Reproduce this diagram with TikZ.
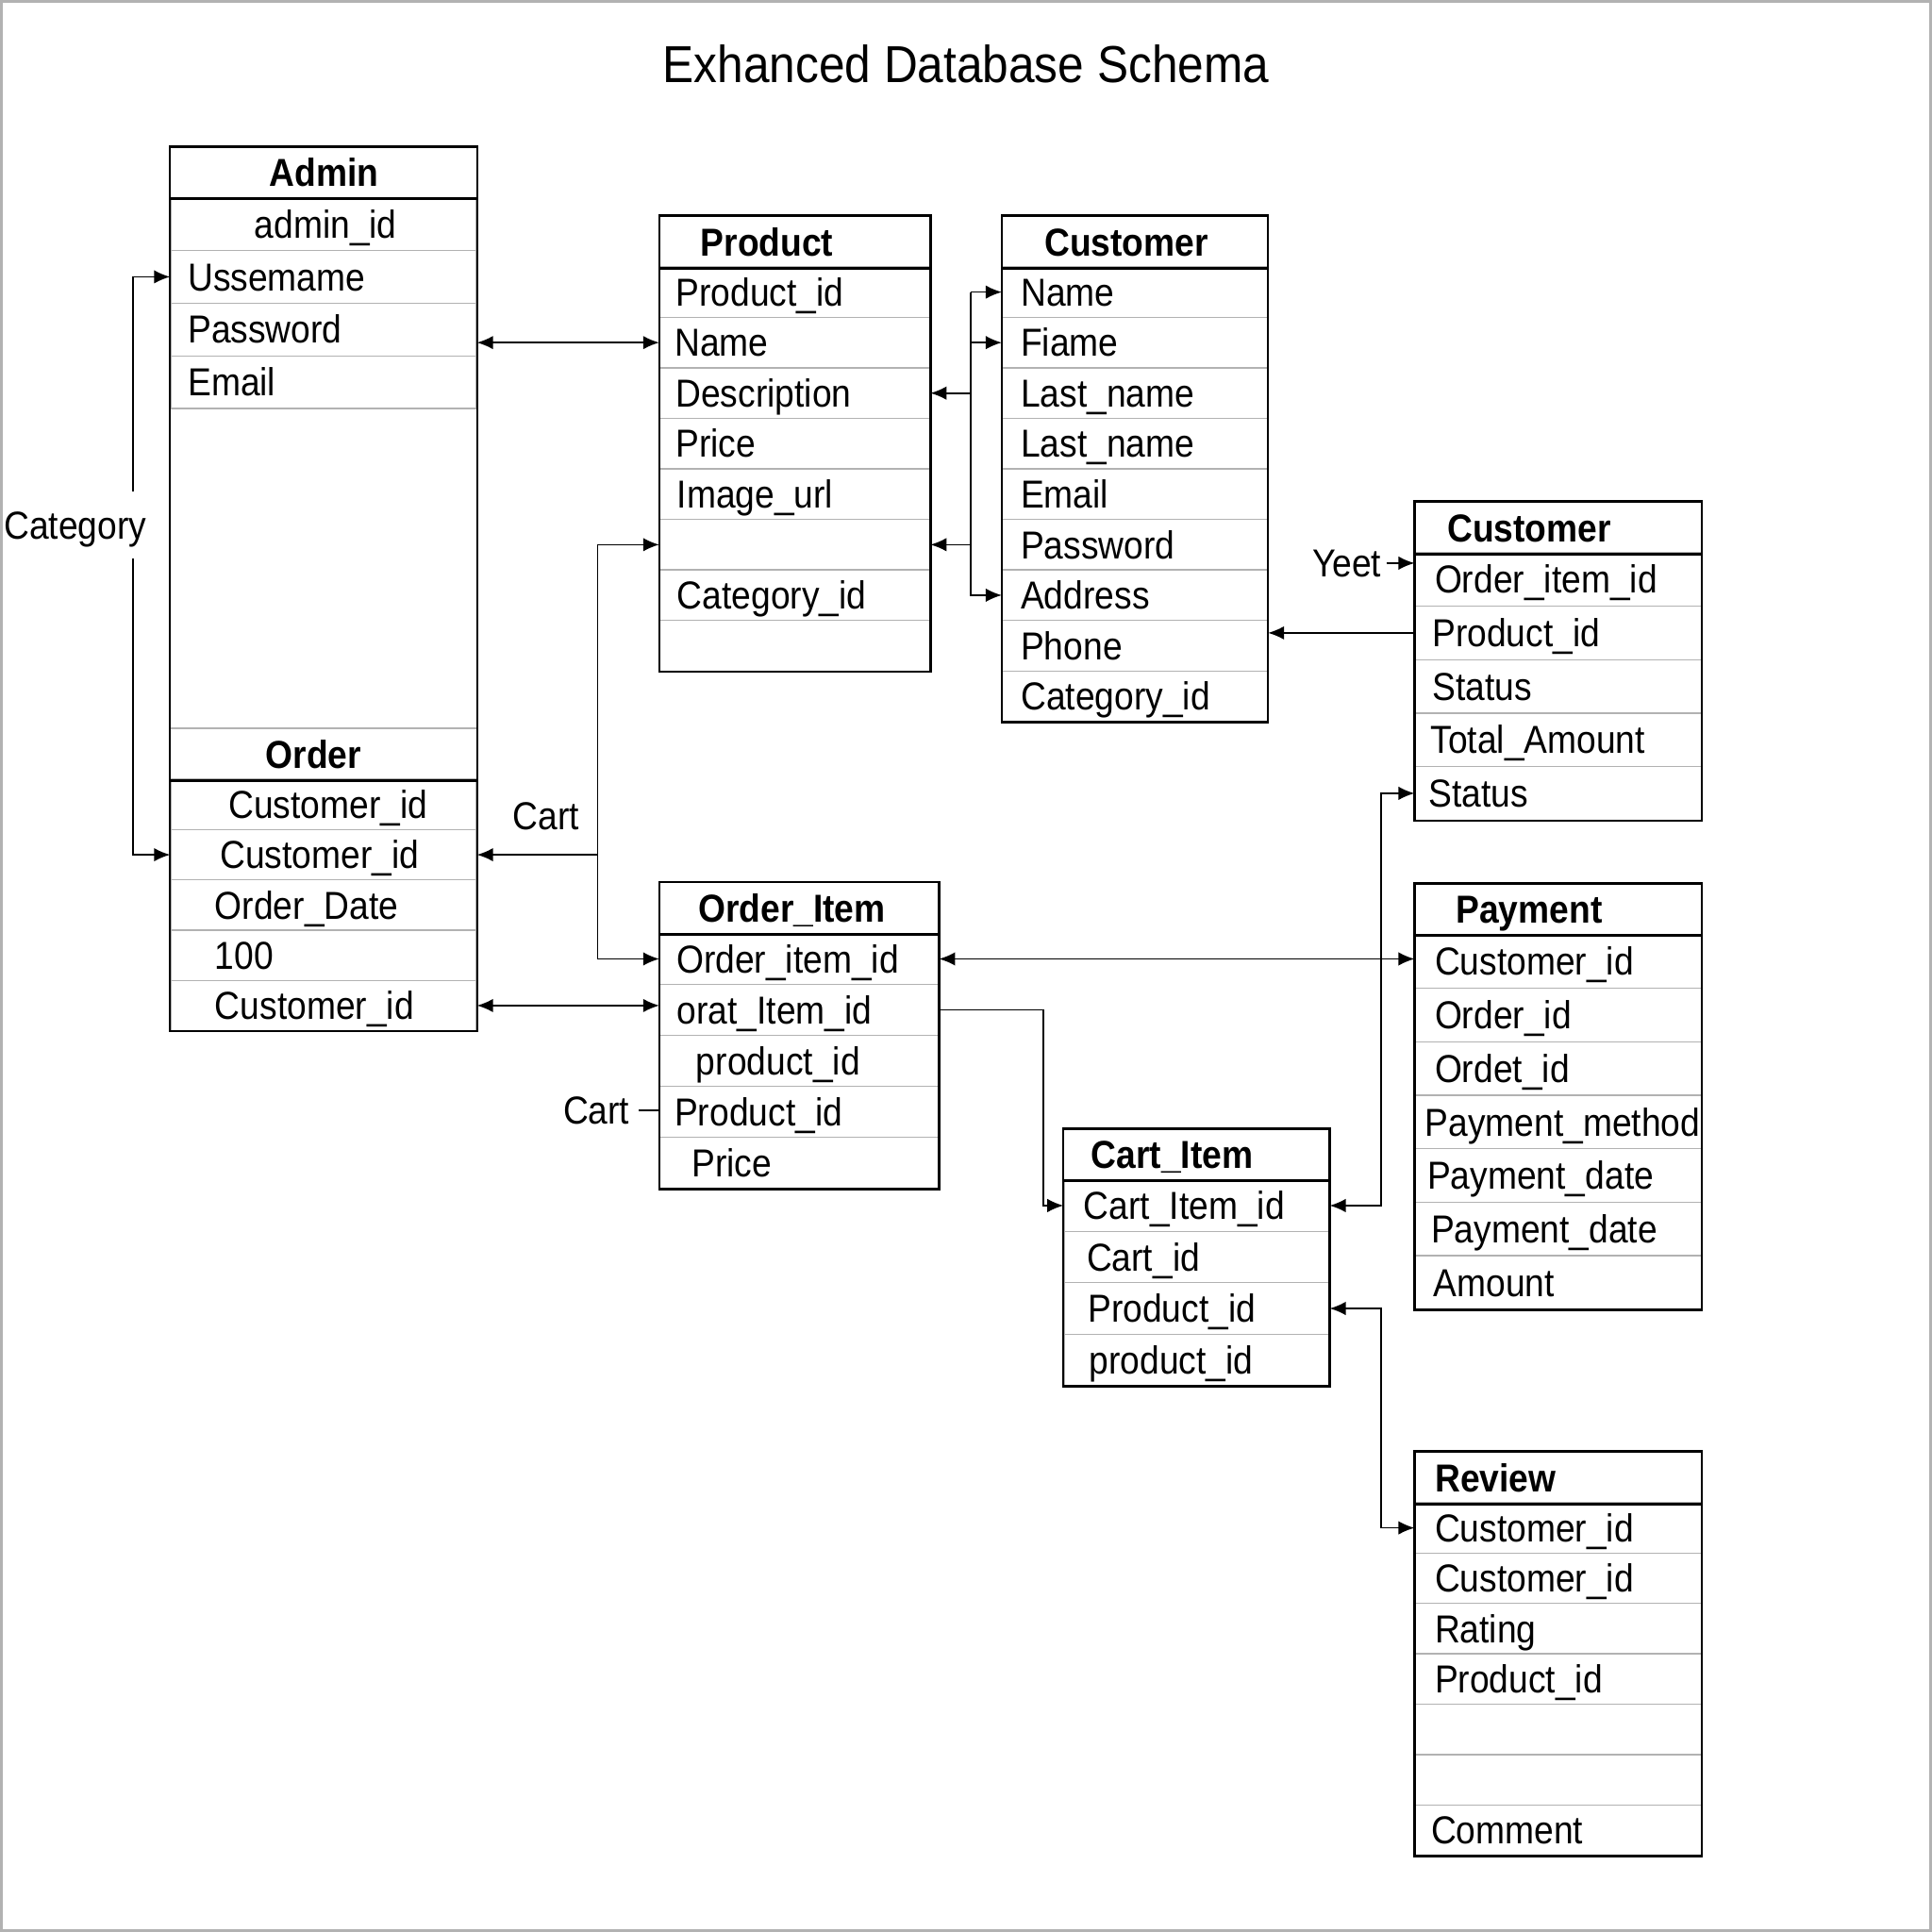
\documentclass[tikz,border=0pt]{standalone}
\usepackage{fontspec}
\setmainfont{Liberation Sans}[FakeStretch=0.9]
\usepackage{tikz}
\usetikzlibrary{calc}
\usetikzlibrary{arrows.meta}
\newlength{\pxu}
\setlength{\pxu}{0.01cm}

\begin{document}
\begin{tikzpicture}[x=0.01cm, y=-0.01cm,
    hdr/.style={anchor=north west, inner sep=0pt, minimum height=0.41cm, align=left, text height=6.4pt, text depth=0pt, font=\fontsize{9}{10}\selectfont\bfseries},
    fld/.style={anchor=north west, draw=gray!60, line width=0.3pt, inner sep=0pt, align=left, text height=6.4pt, text depth=0pt, font=\fontsize{9}{10}\selectfont},
    tblframe/.style={line width=0.5pt},
    hline/.style={line width=0.65pt},
    lbl/.style={inner sep=1pt, text height=6.4pt, text depth=0pt, font=\fontsize{9}{10}\selectfont},
    arr/.style={line width=0.35pt, -{Latex[length=1.3mm, width=1.1mm]}},
    arrs/.style={line width=0.35pt, {Latex[length=1.3mm, width=1.1mm]}-{Latex[length=1.3mm, width=1.1mm]}}]
    \useasboundingbox (0,0) rectangle (1568,1568);
    \node[font=\fontsize{12}{14}\selectfont, text height=8.6pt, text depth=0pt] (title) at (784,52) {Exhanced Database Schema};

    % Admin and Order
    \node[hdr, text width=2.48cm] (adm) at (138,119) {\hspace*{80\pxu}Admin};
    \foreach \txt/\ind [count=\row] in {admin\_id/68, Ussemame/14, Password/14, Email/14}
        \node[fld, text width=2.48cm, minimum height=0.4275cm] (adm-\row) at (138,{160+(\row-1)*42.75}) {\hspace*{\ind\pxu}\mbox{\txt}};
    \node[hdr, text width=2.48cm] (ord) at (138,591) {\hspace*{77\pxu}Order};
    \foreach \txt/\ind [count=\row] in {Customer\_id/47, Customer\_id/40, Order\_Date/36, 100/36, Customer\_id/36}
        \node[fld, text width=2.48cm, minimum height=0.407cm] (ord-\row) at (138,{632+(\row-1)*40.8}) {\hspace*{\ind\pxu}\mbox{\txt}};
    \draw[gray!60, line width=0.3pt] (ord.north west) -- (ord.north east);
    \draw[hline] (adm.south west) -- (adm.south east) (ord.south west) -- (ord.south east);
    \draw[tblframe] (adm.north west) rectangle (ord-5.south east);

    % Product
    \node[hdr, text width=2.19cm] (prod) at (535,175) {\hspace*{33\pxu}Product};
    \foreach \txt/\ind [count=\row] in {Product\_id/13, Name/12, Description/13, Price/13, Image\_url/14, {}/0, Category\_id/14, {}/0}
        \node[fld, text width=2.19cm, minimum height=0.41cm] (prod-\row) at (535,{216+(\row-1)*41}) {\hspace*{\ind\pxu}\mbox{\txt}};
    \draw[hline] (prod.south west) -- (prod.south east);
    \draw[tblframe] (prod.north west) rectangle (prod-8.south east);

    % Customer
    \node[hdr, text width=2.15cm] (cust) at (813,175) {\hspace*{34\pxu}Customer};
    \foreach \txt/\ind [count=\row] in {Name/15, Fiame/15, Last\_name/15, Last\_name/15, Email/15, Password/15, Address/15, Phone/15, Category\_id/15}
        \node[fld, text width=2.15cm, minimum height=0.41cm] (cust-\row) at (813,{216+(\row-1)*41}) {\hspace*{\ind\pxu}\mbox{\txt}};
    \draw[hline] (cust.south west) -- (cust.south east);
    \draw[tblframe] (cust.north west) rectangle (cust-9.south east);

    % Customer (right)
    \node[hdr, text width=2.32cm] (custb) at (1148,407) {\hspace*{26\pxu}Customer};
    \foreach \txt/\ind [count=\row] in {Order\_item\_id/16, Product\_id/14, Status/14, Total\_Amount/12.5, Status/11}
        \node[fld, text width=2.32cm, minimum height=0.434cm] (custb-\row) at (1148,{448+(\row-1)*43.4}) {\hspace*{\ind\pxu}\mbox{\txt}};
    \draw[hline] (custb.south west) -- (custb.south east);
    \draw[tblframe] (custb.north west) rectangle (custb-5.south east);

    % Order_Item
    \node[hdr, text width=2.26cm] (oit) at (535,716) {\hspace*{31\pxu}Order\_Item};
    \foreach \txt/\ind [count=\row] in {Order\_item\_id/13.5, orat\_Item\_id/14, product\_id/29.5, Product\_id/12, Price/26}
        \node[fld, text width=2.26cm, minimum height=0.414cm] (oit-\row) at (535,{757+(\row-1)*41.4}) {\hspace*{\ind\pxu}\mbox{\txt}};
    \draw[hline] (oit.south west) -- (oit.south east);
    \draw[tblframe] (oit.north west) rectangle (oit-5.south east);

    % Cart_Item
    \node[hdr, text width=2.15cm] (cart) at (863,916) {\hspace*{22\pxu}Cart\_Item};
    \foreach \txt/\ind [count=\row] in {Cart\_Item\_id/16, Cart\_id/18.5, Product\_id/19.5, product\_id/20.5}
        \node[fld, text width=2.15cm, minimum height=0.4175cm] (cart-\row) at (863,{957+(\row-1)*41.75}) {\hspace*{\ind\pxu}\mbox{\txt}};
    \draw[hline] (cart.south west) -- (cart.south east);
    \draw[tblframe] (cart.north west) rectangle (cart-4.south east);

    % Payment
    \node[hdr, text width=2.32cm] (pay) at (1148,717) {\hspace*{33\pxu}Payment};
    \foreach \txt/\ind [count=\row] in {Customer\_id/16, Order\_id/16, Ordet\_id/16, Payment\_method/8, Payment\_date/10, Payment\_date/13, Amount/15}
        \node[fld, text width=2.32cm, minimum height=0.4343cm] (pay-\row) at (1148,{758+(\row-1)*43.43}) {\hspace*{\ind\pxu}\mbox{\txt}};
    \draw[hline] (pay.south west) -- (pay.south east);
    \draw[tblframe] (pay.north west) rectangle (pay-7.south east);

    % Review
    \node[hdr, text width=2.32cm] (rev) at (1148,1178) {\hspace*{16\pxu}Review};
    \foreach \txt/\ind [count=\row] in {Customer\_id/16, Customer\_id/16, Rating/16, Product\_id/16, {}/0, {}/0, Comment/13}
        \node[fld, text width=2.32cm, minimum height=0.409cm] (rev-\row) at (1148,{1219+(\row-1)*40.9}) {\hspace*{\ind\pxu}\mbox{\txt}};
    \draw[hline] (rev.south west) -- (rev.south east);
    \draw[tblframe] (rev.north west) rectangle (rev-7.south east);

    % connectors
    \draw[arrs] (adm-2.west) -- ++(-30,0) |- (ord-2.west);
    \node[lbl, inner ysep=4.5pt, fill=white] (cat) at (61,426) {Category};
    \draw[arrs] (prod-2.west -| adm-3.east) -- (prod-2.west);

    \coordinate (cbus) at ($(cust-1.west)+(-25,0)$);
    \draw[arr] (cbus) -- (cust-1.west);
    \draw[arr] (cbus) |- (cust-7.west);
    \draw[arr] (cbus |- cust-2.west) -- (cust-2.west);
    \draw[arr] (cbus |- prod-3.east) -- (prod-3.east);
    \draw[arr] (cbus |- prod-6.east) -- (prod-6.east);

    \draw[arr] (custb-2.west) -- (custb-2.west -| cust-8.east);
    \node[lbl] (yeet) at (1093,457) {Yeet};
    \draw[arr] (yeet.east) -- (yeet.east -| custb-1.west);

    \coordinate (kbus) at ($(prod-6.west)+(-50,0)$);
    \draw[arr] (kbus) -- (prod-6.west);
    \draw[arr] (kbus) |- (oit-1.west);
    \draw[arr] (kbus |- ord-2.east) -- (ord-2.east);
    \node[lbl] (cartA) at (443,662) {Cart};

    \draw[arrs] (ord-5.east) -- (ord-5.east -| oit-2.west);
    \node[lbl, inner xsep=2pt] (cartB) at (484,901) {Cart};
    \draw[line width=0.35pt] (cartB.east) -- (cartB.east -| oit-4.west);

    \draw[arrs] (oit-1.east) -- (oit-1.east -| pay-1.west);
    \draw[arr] (oit-2.east) -| ($(cart-1.west)+(-16,0)$) -- (cart-1.west);
    \draw[arrs] (cart-1.east) -| ($(custb-5.west)+(-27,0)$) -- (custb-5.west);
    \draw[arrs] (cart-3.east) -| ($(rev-1.west)+(-27,0)$) -- (rev-1.west);

    \draw[gray!60, line width=0.8pt] (1,1) rectangle (1567,1567);
\end{tikzpicture}
\end{document}
